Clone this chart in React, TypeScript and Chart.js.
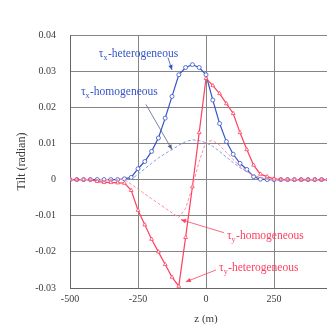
import React, { useEffect, useRef } from "react";
import { Chart, registerables } from "chart.js";

Chart.register(...registerables);

const xValues = [
  -500, -475, -450, -425, -400, -375, -350, -325, -300, -275, -250, -225, -200, -175, -150, -125, -100,
  -75, -50, -25, 0, 25, 50, 75, 100, 125, 150, 175, 200, 225, 250, 275, 300, 325, 350, 375, 400, 425,
  450, 475, 500,
];

const txHetero = [
  0, 0, 0, 0, 0, 0, 0, 0, 0.0002, 0.0006, 0.003, 0.005, 0.0078, 0.0115, 0.017, 0.023, 0.029, 0.031,
  0.0318, 0.031, 0.029, 0.022, 0.0155, 0.0105, 0.007, 0.0045, 0.0028, 0.0008, 0.0001, 0, 0, 0, 0, 0, 0,
  0, 0, 0, 0, 0, 0,
];

const txHomo = [
  0, 0, 0, 0, 0, 0, 0, 0, 0, 0, 0.0015, 0.003, 0.0045, 0.006, 0.0072, 0.0083, 0.0095, 0.0105, 0.011,
  0.0108, 0.0102, 0.0092, 0.0078, 0.0062, 0.0047, 0.0033, 0.0022, 0.0012, 0.0005, 0.0001, 0, 0, 0, 0, 0,
  0, 0, 0, 0, 0, 0,
];

const tyHetero = [
  0, 0, 0, 0, -0.0005, -0.0008, -0.0008, -0.0009, -0.001, -0.003, -0.0085, -0.0125, -0.0165, -0.02,
  -0.0235, -0.027, -0.0295, -0.016, -0.002, 0.013, 0.028, 0.026, 0.0238, 0.021, 0.0183, 0.013, 0.0083,
  0.004, 0.0015, 0.0008, 0.0002, 0, 0, 0, 0, 0, 0, 0, 0, 0, 0,
];

const tyHomo = [
  0, 0, 0, 0, 0, 0, 0, 0, 0, -0.0013, -0.0026, -0.004, -0.0053, -0.0066, -0.0079, -0.0092, -0.0105,
  -0.008, -0.002, 0.005, 0.0105, 0.0108, 0.0095, 0.0075, 0.0055, 0.0037, 0.0022, 0.0012, 0.0005, 0.0001,
  0, 0, 0, 0, 0, 0, 0, 0, 0, 0, 0,
];

const yTicks = [-0.03, -0.02, -0.01, 0, 0.01, 0.02, 0.03, 0.04];
const yTickLabels = ["-0.03", "-0.02", "-0.01", "0", "0.01", "0.02", "0.03", "0.04"];
const xTicks = [-500, -250, 0, 250, 500];
const xTickLabels = ["-500", "-250", "0", "250", "500"];

const labelSub = ["x", "x", "y", "y"];
const labelText = ["-heterogeneous", "-homogeneous", "-homogeneous", "-heterogeneous"];
const labelX = [-394, -460, 77, 48];
const labelY = [0.0348, 0.0242, -0.0156, -0.0244];
const leaderFromX = [-140, -221, 66, 37];
const leaderFromY = [0.0338, 0.0208, -0.0147, -0.025];
const leaderToX = [-125, -125, -92, -74];
const leaderToY = [0.0303, 0.0083, -0.0111, -0.0283];

const BLUE = "#3553c8";
const BLUE_LIGHT = "#7f9ee6";
const RED = "#ff4060";
const RED_LIGHT = "#ff8c9e";
const labelColors = [BLUE, BLUE, RED, RED];
const leaderColors = [BLUE, "#556688", RED, RED];

const SERIF = "'Liberation Serif', 'DejaVu Serif', serif";

const annotationPlugin = {
  id: "annotations",
  afterDatasetsDraw(chart: any) {
    const { ctx, scales } = chart;
    const xs = scales.x;
    const ys = scales.y;
    ctx.save();
    for (let i = 0; i < labelText.length; i++) {
      const x1 = xs.getPixelForValue(leaderFromX[i]);
      const y1 = ys.getPixelForValue(leaderFromY[i]);
      const x2 = xs.getPixelForValue(leaderToX[i]);
      const y2 = ys.getPixelForValue(leaderToY[i]);
      ctx.strokeStyle = leaderColors[i];
      ctx.fillStyle = leaderColors[i];
      ctx.lineWidth = 0.8;
      ctx.beginPath();
      ctx.moveTo(x1, y1);
      ctx.lineTo(x2, y2);
      ctx.stroke();
      const ang = Math.atan2(y2 - y1, x2 - x1);
      const L = 5;
      const W = 2.2;
      ctx.beginPath();
      ctx.moveTo(x2, y2);
      ctx.lineTo(x2 - L * Math.cos(ang) + W * Math.sin(ang), y2 - L * Math.sin(ang) - W * Math.cos(ang));
      ctx.lineTo(x2 - L * Math.cos(ang) - W * Math.sin(ang), y2 - L * Math.sin(ang) + W * Math.cos(ang));
      ctx.closePath();
      ctx.fill();

      const tx = xs.getPixelForValue(labelX[i]);
      const ty = ys.getPixelForValue(labelY[i]);
      ctx.fillStyle = labelColors[i];
      ctx.textBaseline = "middle";
      ctx.textAlign = "left";
      ctx.font = `11.5px ${SERIF}`;
      ctx.fillText("\u03c4", tx, ty);
      const w1 = ctx.measureText("\u03c4").width;
      ctx.font = `8px ${SERIF}`;
      ctx.fillText(labelSub[i], tx + w1, ty + 4);
      const w2 = ctx.measureText(labelSub[i]).width;
      ctx.font = `11.5px ${SERIF}`;
      ctx.fillText(labelText[i], tx + w1 + w2 + 0.5, ty);
    }
    ctx.restore();
  },
};

function toPoints(ys: number[]) {
  return xValues.map((x, i) => ({ x, y: ys[i] }));
}

export default function App() {
  const ref = useRef<HTMLCanvasElement | null>(null);
  useEffect(() => {
    if (!ref.current) return;
    const chart = new Chart(ref.current, {
      type: "line",
      data: {
        datasets: [
          {
            label: "τy-homogeneous",
            data: toPoints(tyHomo),
            borderColor: RED_LIGHT,
            borderWidth: 1,
            borderDash: [3, 2],
            pointRadius: 0,
            fill: false,
          },
          {
            label: "τy-heterogeneous",
            data: toPoints(tyHetero),
            borderColor: RED,
            borderWidth: 1.2,
            pointRadius: 2.2,
            pointStyle: "triangle",
            pointBackgroundColor: "#ffffff",
            pointBorderColor: RED,
            pointBorderWidth: 0.8,
            fill: false,
          },
          {
            label: "τx-homogeneous",
            data: toPoints(txHomo),
            borderColor: BLUE_LIGHT,
            borderWidth: 1,
            borderDash: [3, 2],
            pointRadius: 0,
            fill: false,
          },
          {
            label: "τx-heterogeneous",
            data: toPoints(txHetero),
            borderColor: BLUE,
            borderWidth: 1.2,
            pointRadius: 2,
            pointStyle: "circle",
            pointBackgroundColor: "#ffffff",
            pointBorderColor: BLUE,
            pointBorderWidth: 0.8,
            fill: false,
          },
        ],
      },
      options: {
        responsive: false,
        animation: false,
        layout: { padding: { top: 27, right: 26, left: 0, bottom: 0 } },
        plugins: { legend: { display: false }, tooltip: { enabled: false } },
        scales: {
          x: {
            type: "linear",
            min: -500,
            max: 500,
            afterBuildTicks: (s: any) => {
              s.ticks = xTicks.map((v) => ({ value: v }));
            },
            afterFit: (s: any) => {
              s.height = 38;
            },
            ticks: {
              callback: (_v: any, i: number) => xTickLabels[i],
              font: { family: SERIF, size: 10 },
              color: "#3a3a3a",
              padding: 5,
              maxRotation: 0,
            },
            grid: { color: "#858585", lineWidth: 1, drawTicks: false },
            border: { color: "#666", width: 1 },
            title: {
              display: true,
              text: "z (m)",
              font: { family: SERIF, size: 11 },
              color: "#3a3a3a",
              padding: { top: 0, bottom: 0 },
            },
          },
          y: {
            type: "linear",
            min: -0.03,
            max: 0.04,
            afterBuildTicks: (s: any) => {
              s.ticks = yTicks.map((v) => ({ value: v }));
            },
            afterFit: (s: any) => {
              s.width = 62;
            },
            ticks: {
              callback: (_v: any, i: number) => yTickLabels[i],
              font: { family: SERIF, size: 10 },
              color: "#3a3a3a",
              padding: 14,
            },
            grid: { color: "#858585", lineWidth: 1, drawTicks: false },
            border: { color: "#666", width: 1 },
            title: {
              display: true,
              text: "Tilt (radian)",
              font: { family: SERIF, size: 12 },
              color: "#3a3a3a",
              padding: { top: 7, bottom: 0 },
            },
          },
        },
      },
      plugins: [annotationPlugin],
    } as any);
    return () => chart.destroy();
  }, []);

  return (
    <div style={{ width: 327, height: 318, overflow: "hidden", position: "relative" }}>
      <canvas ref={ref} width={360} height={318} style={{ display: "block" }} />
    </div>
  );
}
